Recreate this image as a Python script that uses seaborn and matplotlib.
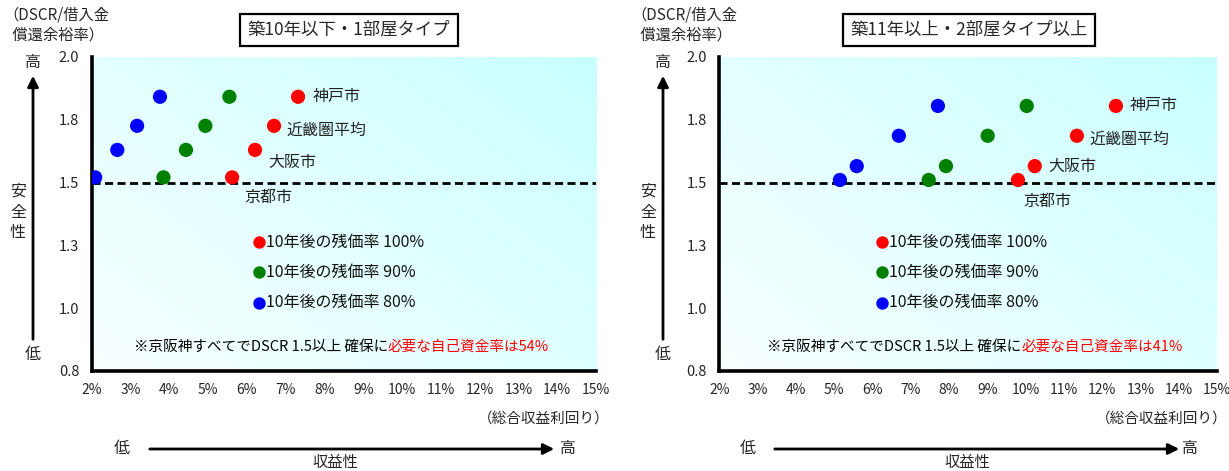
import numpy as np
import pandas as pd
import matplotlib
matplotlib.use("Agg")
import matplotlib.pyplot as plt
import seaborn as sns

# ---- data ----
cities = ["神戸市", "近畿圏平均", "大阪市", "京都市"]
residual_labels = ["10年後の残価率 100%", "10年後の残価率 90%", "10年後の残価率 80%"]
residual_colors = ["#ff0000", "#008000", "#0000ff"]

# 築10年以下・1部屋タイプ
dscr_a = [1.848, 1.737, 1.645, 1.540]
yield_a_100 = [7.32, 6.70, 6.21, 5.62]
yield_a_90 = [5.55, 4.93, 4.43, 3.85]
yield_a_80 = [3.76, 3.17, 2.66, 2.09]

# 築11年以上・2部屋タイプ以上
dscr_b = [1.813, 1.699, 1.583, 1.530]
yield_b_100 = [12.36, 11.34, 10.24, 9.80]
yield_b_90 = [10.03, 9.01, 7.92, 7.47]
yield_b_80 = [7.71, 6.69, 5.59, 5.15]

dscr_threshold = 1.52
x_ticks = list(range(2, 16))
y_ticks = [0.8, 1.04, 1.28, 1.52, 1.76, 2.0]

titles = ["築10年以下・1部屋タイプ", "築11年以上・2部屋タイプ以上"]
equity_ratios = ["54%", "41%"]

sns.set_theme(style="white")
plt.rcParams["font.family"] = ["Noto Sans CJK JP", "DejaVu Sans"]

W, H = 1229, 471
fig = plt.figure(figsize=(W / 100, H / 100), dpi=100)


def px(x, y):
    """top-left pixel coords -> figure fraction"""
    return x / W, 1 - y / H


def make_frame(dscr, y100, y90, y80):
    rows = []
    for lab, ys in zip(residual_labels, [y100, y90, y80]):
        for c, xv, yv in zip(cities, ys, dscr):
            rows.append({"city": c, "yield": xv, "dscr": yv, "residual": lab})
    return pd.DataFrame(rows)


panels = [
    dict(left=91.7, right=596, df=make_frame(dscr_a, yield_a_100, yield_a_90, yield_a_80),
         label_off=[(15, 0), (12, -4), (13, -13), (12, -20)],
         leg_x=0.332, note_split=0.5875, title_x=349, ylab_x=56, varrow_x=33, vtext_x=18,
         harrow=(122, 147, 557, 568, 335), xcap_x=610),
    dict(left=719.3, right=1217, df=make_frame(dscr_b, yield_b_100, yield_b_90, yield_b_80),
         label_off=[(14, 0), (13, -4), (14, 0), (5, -21)],
         leg_x=0.327, note_split=0.6076, title_x=969, ylab_x=684, varrow_x=663, vtext_x=648,
         harrow=(748, 772, 1182, 1190, 967), xcap_x=1228),
]

palette = dict(zip(residual_labels, residual_colors))

# diagonal white -> light cyan background
gx, gy = np.meshgrid(np.linspace(0, 1, 200), np.linspace(0, 1, 200))
t = np.clip((0.55 * gx + 0.45 * gy), 0, 1)
c0 = np.array([0.975, 1.0, 1.0])
c1 = np.array([0.79, 1.0, 1.0])
grad = c0[None, None, :] * (1 - t[..., None]) + c1[None, None, :] * t[..., None]

for i, p in enumerate(panels):
    l, r = p["left"], p["right"]
    ax = fig.add_axes([l / W, 1 - 371 / H, (r - l) / W, 314 / H])
    ax.imshow(grad, extent=[0, 1, 0, 1], transform=ax.transAxes, origin="lower",
              aspect="auto", zorder=0, interpolation="bilinear")
    df = p["df"]
    sns.scatterplot(data=df, x="yield", y="dscr", hue="residual", palette=palette,
                    s=105, linewidth=0, legend=False, ax=ax, zorder=3)
    ax.axhline(dscr_threshold, color="black", lw=2, linestyle=(0, (2.9, 1.6)), zorder=2)

    ax.set_xlim(2, 15)
    ax.set_ylim(0.8, 2.0)
    ax.set_xticks(x_ticks)
    ax.set_xticklabels([f"{v}%" for v in x_ticks], fontsize=10)
    ax.set_yticks(y_ticks)
    ax.set_yticklabels([f"{v:.1f}" for v in y_ticks], fontsize=10.5)
    ax.tick_params(axis="both", direction="in", length=4, width=1.5, color="black")
    ax.tick_params(axis="y", pad=9)
    ax.tick_params(axis="x", pad=9)
    ax.set_xlabel("")
    ax.set_ylabel("")
    ax.grid(False)
    for s in ["top", "right"]:
        ax.spines[s].set_visible(False)
    for s in ["left", "bottom"]:
        ax.spines[s].set_color("black")
        ax.spines[s].set_linewidth(2.6)
    ax.set_facecolor("none")

    # city labels next to the 100% points
    red = df[df["residual"] == residual_labels[0]]
    for (_, row), (dx, dy) in zip(red.iterrows(), p["label_off"]):
        ax.annotate(row["city"], (row["yield"], row["dscr"]), xytext=(dx, dy),
                    textcoords="offset pixels", ha="left", va="center",
                    fontsize=11.5, color="#222222", zorder=4)

    # in-plot legend
    for k, (lab, col) in enumerate(zip(residual_labels, residual_colors)):
        yy = [0.411, 0.315, 0.217][k]
        ax.scatter([p["leg_x"]], [yy], s=80, color=col, linewidth=0,
                   transform=ax.transAxes, zorder=4, clip_on=False)
        ax.text(p["leg_x"] + 0.013, yy, lab, transform=ax.transAxes, ha="left",
                va="center", fontsize=11.5, color="#111111")

    # note
    ax.text(p["note_split"], 0.0764, "※京阪神すべてでDSCR 1.5以上 確保に",
            transform=ax.transAxes, ha="right", va="center", fontsize=10.5, color="black")
    ax.text(p["note_split"], 0.0764, f"必要な自己資金率は{equity_ratios[i]}",
            transform=ax.transAxes, ha="left", va="center", fontsize=10.5, color="#ff0000")

    # title box
    fig.text(*px(p["title_x"], 30), titles[i], ha="center", va="center", fontsize=12.5,
             bbox=dict(boxstyle="square,pad=0.42", fc="white", ec="black", lw=1.6))

    # y-axis caption
    fig.text(*px(p["ylab_x"], 25), "（DSCR/借入金\n 償還余裕率）", ha="center", va="center",
             fontsize=11, linespacing=1.25)

    # vertical safety arrow
    vx = p["varrow_x"]
    fig.text(*px(vx, 62), "高", ha="center", va="center", fontsize=11.5)
    fig.text(*px(vx, 355), "低", ha="center", va="center", fontsize=11.5)
    fig.text(*px(p["vtext_x"], 212), "安\n全\n性", ha="center", va="center",
             fontsize=11.5, linespacing=1.3)
    fig.add_artist(matplotlib.patches.FancyArrowPatch(
        px(vx, 342), px(vx, 73), transform=fig.transFigure, arrowstyle="-|>",
        mutation_scale=16, lw=2, color="black"))

    # horizontal profitability arrow
    lo_x, a0, a1, hi_x, mid_x = p["harrow"]
    fig.text(*px(lo_x, 449), "低", ha="center", va="center", fontsize=11.5)
    fig.text(*px(hi_x, 449), "高", ha="center", va="center", fontsize=11.5)
    fig.text(*px(mid_x, 463), "収益性", ha="center", va="center", fontsize=11)
    fig.add_artist(matplotlib.patches.FancyArrowPatch(
        px(a0, 449), px(a1, 449), transform=fig.transFigure, arrowstyle="-|>",
        mutation_scale=16, lw=2, color="black"))

    fig.text(*px(p["xcap_x"], 419), "（総合収益利回り）", ha="right", va="center", fontsize=10.5)

fig.savefig("out.png", dpi=100, facecolor="white")
